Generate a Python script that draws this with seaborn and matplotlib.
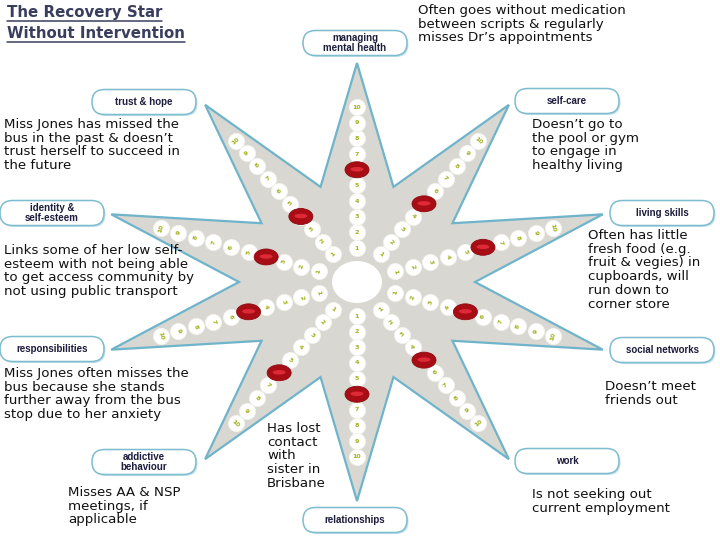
import numpy as np
import pandas as pd
import matplotlib
matplotlib.use("Agg")
import matplotlib.pyplot as plt
import seaborn as sns
from matplotlib.patches import Ellipse, FancyBboxPatch, Polygon

# ---------------- data ----------------
domains = ["managing\nmental health", "self-care", "living skills", "social networks",
           "work", "relationships", "addictive\nbehaviour", "responsibilities",
           "identity &\nself-esteem", "trust & hope"]
angles_deg = [90, 54, 18, -18, -54, -90, -126, -162, 162, 126]
scores = [6, 5, 6, 5, 5, 6, 6, 5, 4, 4]
scale_points = list(range(1, 11))

notes = [
    "Often goes without medication\nbetween scripts & regularly\nmisses Dr\u2019s appointments",
    "Doesn\u2019t go to\nthe pool or gym\nto engage in\nhealthy living",
    "Often has little\nfresh food (e.g.\nfruit & vegies) in\ncupboards, will\nrun down to\ncorner store",
    "Doesn\u2019t meet\nfriends out",
    "Is not seeking out\ncurrent employment",
    "Has lost\ncontact\nwith\nsister in\nBrisbane",
    "Misses AA & NSP\nmeetings, if\napplicable",
    "Miss Jones often misses the\nbus because she stands\nfurther away from the bus\nstop due to her anxiety",
    "Links some of her low self-\nesteem with not being able\nto get access community by\nnot using public transport",
    "Miss Jones has missed the\nbus in the past & doesn\u2019t\ntrust herself to succeed in\nthe future",
]
title_lines = ["The Recovery Star", "Without Intervention"]

# ---------------- layout (pixel space) ----------------
label_pos = [(355, 43), (567, 101), (662, 213), (662, 350), (567, 461),
             (355, 520), (144, 462), (52, 349), (52, 213), (144, 102)]
note_pos = [(418, 4), (532, 118), (588, 229), (605, 380), (532, 488),
            (267, 422), (68, 486), (4, 367), (4, 244), (4, 118)]

CX, CY = 357, 282
SX = 1.18          # horizontal stretch of the star
R1, STEP = 34, 15.65
R_TIP, R_IN = 219, 100

def pos(r, a):
    t = np.deg2rad(a)
    return CX + SX * r * np.cos(t), CY - r * np.sin(t)

sns.set_theme(style="white")
plt.rcParams['font.family'] = ['DejaVu Sans']

fig = plt.figure(figsize=(7.2, 5.4), dpi=100)
ax = fig.add_axes([0, 0, 1, 1])
ax.set_xlim(0, 720)
ax.set_ylim(540, 0)
ax.axis("off")

# star outline
verts = []
for a in angles_deg:
    verts.append(pos(R_TIP, a))
    verts.append(pos(R_IN, a - 18))
star = Polygon(verts, closed=True, facecolor="#d8d7d1", edgecolor="#6fb4ca",
               linewidth=1.6, joinstyle="miter", zorder=1)
ax.add_patch(star)

# centre disc
ax.add_patch(Ellipse((CX, CY), 50, 42, facecolor="white", edgecolor="none", zorder=2))

# scale dots
rows = []
for dom, a in zip(domains, angles_deg):
    for k in scale_points:
        x, y = pos(R1 + STEP * (k - 1), a)
        rows.append({"domain": dom, "angle": a, "k": k, "x": x, "y": y})
df = pd.DataFrame(rows)
sns.scatterplot(data=df, x="x", y="y", ax=ax, s=135, color="white",
                edgecolor="#f4f4ee", linewidth=0.6, legend=False, zorder=3)

for _, r in df.iterrows():
    t = np.deg2rad(r["angle"])
    disp = np.rad2deg(np.arctan2(np.sin(t), SX * np.cos(t)))
    rot = disp - 90
    while rot > 90:
        rot -= 180
    while rot < -90:
        rot += 180
    ax.text(r["x"], r["y"], str(int(r["k"])), fontsize=4.6, fontweight="bold",
            color="#a3b21e", ha="center", va="center", rotation=rot, zorder=4)

# score markers
for a, s in zip(angles_deg, scores):
    x, y = pos(R1 + STEP * (s - 1), a)
    ax.add_patch(Ellipse((x, y), 24, 16, facecolor="#a80d16", edgecolor="#8a0a10",
                         linewidth=0.6, zorder=5))
    ax.add_patch(Ellipse((x, y - 0.5), 13, 4.5, facecolor="#dd2a36",
                         edgecolor="none", zorder=6))

# domain label boxes
BW, BH = 104, 25
for lab, (x, y) in zip(domains, label_pos):
    ax.add_patch(FancyBboxPatch((x - BW / 2 + 1.5, y - BH / 2 + 1.5), BW, BH,
                                boxstyle="round,pad=0,rounding_size=12.5",
                                facecolor="#bfe0ea", edgecolor="none", zorder=6.5))
    ax.add_patch(FancyBboxPatch((x - BW / 2, y - BH / 2), BW, BH,
                                boxstyle="round,pad=0,rounding_size=12.5",
                                facecolor="white", edgecolor="#7fbcd0",
                                linewidth=1.1, zorder=7))
    ax.text(x, y, lab, fontsize=7.0, fontweight="bold", color="#1c1c3c",
            family=["Liberation Sans", "DejaVu Sans"],
            ha="center", va="center", linespacing=0.9, zorder=8)

# notes
for txt, (x, y) in zip(notes, note_pos):
    ax.text(x, y, txt, fontsize=9.6, color="#111111", ha="left", va="top",
            linespacing=1.07, zorder=9)

# title (underlined)
for line, yc in zip(title_lines, [13, 34]):
    t = ax.text(7, yc, line, fontsize=10.8, fontweight="bold", color="#3a3e5e",
                ha="left", va="center", zorder=9)
fig.canvas.draw()
renderer = fig.canvas.get_renderer()
inv = ax.transData.inverted()
for t in [tx for tx in ax.texts if tx.get_text() in title_lines]:
    bb = t.get_window_extent(renderer)
    (x0, _), (x1, _) = inv.transform([(bb.x0, bb.y0), (bb.x1, bb.y0)])
    yc = t.get_position()[1]
    ax.plot([x0, x1], [yc + 8, yc + 8], color="#3a3e5e", linewidth=1.1, zorder=9)

fig.savefig("out.png", dpi=100)
